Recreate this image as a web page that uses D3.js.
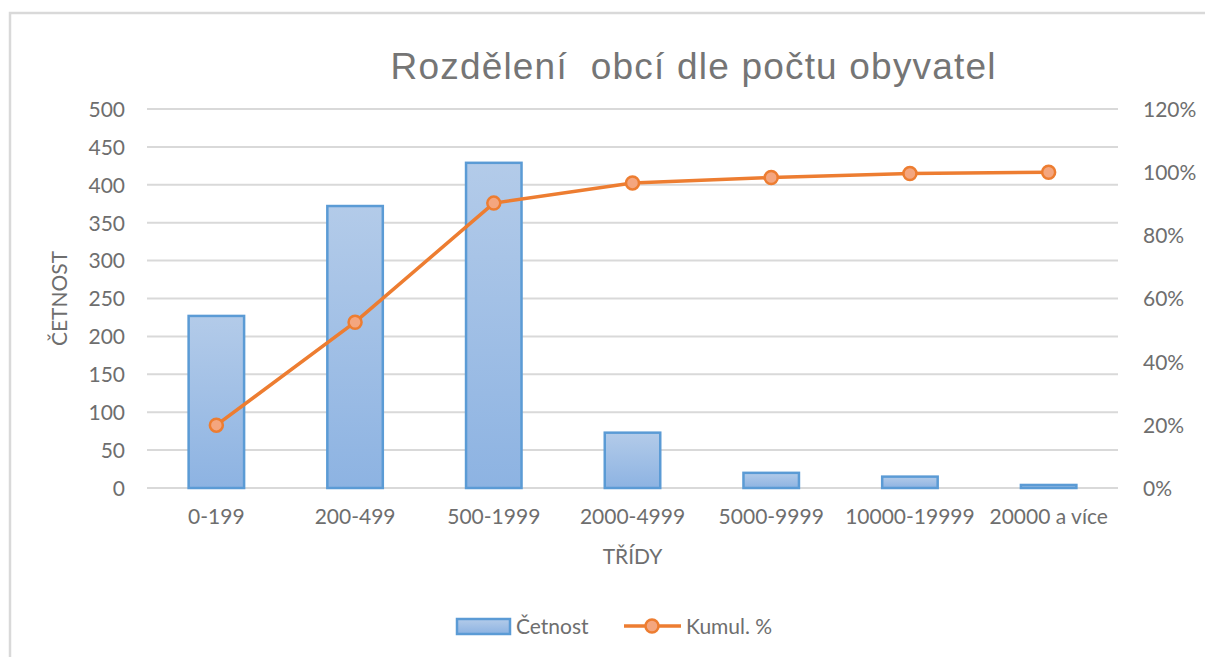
<!DOCTYPE html>
<html>
<head>
<meta charset="utf-8">
<script src="https://cdn.jsdelivr.net/npm/d3@7"></script>
<style>
  body { margin: 0; background: #fff; }
  text { font-family: Lato, "Open Sans", sans-serif; fill: #6e6e6e; }
</style>
</head>
<body>
<svg id="chart" width="1205" height="657"></svg>
<script>
// data
var categories = ['0-199', '200-499', '500-1999', '2000-4999', '5000-9999', '10000-19999', '20000 a více'];
var counts = [227, 372, 429, 73, 20, 15, 4];
var cumulPct = [0.199, 0.525, 0.902, 0.966, 0.983, 0.996, 1.0];
var leftTicks = [0, 50, 100, 150, 200, 250, 300, 350, 400, 450, 500];
var rightTicks = [0, 0.2, 0.4, 0.6, 0.8, 1.0, 1.2];

var svg = d3.select('#chart');

// outer chart frame (runs off the right and bottom)
svg.append('rect')
  .attr('x', 10).attr('y', 13)
  .attr('width', 1400).attr('height', 900)
  .attr('fill', 'none').attr('stroke', '#d9d9d9').attr('stroke-width', 2.5);

var plotL = 147, plotR = 1118, plotT = 109, plotB = 488;

var x = d3.scaleBand().domain(categories).range([plotL, plotR])
  .paddingInner(0.6).paddingOuter(0.3);
var y = d3.scaleLinear().domain([0, 500]).range([plotB, plotT]);
var y2 = d3.scaleLinear().domain([0, 1.2]).range([plotB, plotT]);

var defs = svg.append('defs');
var grad = defs.append('linearGradient').attr('id', 'barGrad')
  .attr('x1', 0).attr('y1', 0).attr('x2', 0).attr('y2', 1);
grad.append('stop').attr('offset', '0%').attr('stop-color', '#b3cbe9');
grad.append('stop').attr('offset', '100%').attr('stop-color', '#8db3e2');

// gridlines
svg.append('g').selectAll('line')
  .data(leftTicks)
  .enter().append('line')
  .attr('x1', plotL).attr('x2', plotR)
  .attr('y1', function(d){ return y(d); })
  .attr('y2', function(d){ return y(d); })
  .attr('stroke', '#d9d9d9').attr('stroke-width', 2);

// left axis
var axL = svg.append('g').attr('transform', 'translate(' + (plotL - 22) + ',0)')
  .call(d3.axisLeft(y).tickValues(leftTicks).tickSize(0).tickPadding(0));
axL.select('.domain').remove();
axL.selectAll('text').style('font-size', '21px').attr('dy', '0.35em');

// right axis
var axR = svg.append('g').attr('transform', 'translate(' + (plotR + 25) + ',0)')
  .call(d3.axisRight(y2).tickValues(rightTicks).tickSize(0).tickPadding(0)
    .tickFormat(d3.format('.0%')));
axR.select('.domain').remove();
axR.selectAll('text').style('font-size', '21px').attr('dy', '0.35em');

// bottom axis labels
var axB = svg.append('g').attr('transform', 'translate(0,' + (plotB + 20) + ')')
  .call(d3.axisBottom(x).tickSize(0).tickPadding(0));
axB.select('.domain').remove();
axB.selectAll('text').style('font-size', '21px').attr('dy', '0.75em');

// bars
svg.append('g').selectAll('rect')
  .data(counts)
  .enter().append('rect')
  .attr('x', function(d, i){ return x(categories[i]); })
  .attr('y', function(d){ return y(d); })
  .attr('width', x.bandwidth())
  .attr('height', function(d){ return plotB - y(d); })
  .attr('fill', 'url(#barGrad)')
  .attr('stroke', '#5b9bd5').attr('stroke-width', 2.5);

// cumulative line
var line = d3.line()
  .x(function(d, i){ return x(categories[i]) + x.bandwidth() / 2; })
  .y(function(d){ return y2(d); });
svg.append('path')
  .datum(cumulPct)
  .attr('d', line)
  .attr('fill', 'none').attr('stroke', '#ed7d31').attr('stroke-width', 3.5)
  .attr('stroke-linejoin', 'round');

svg.append('g').selectAll('circle')
  .data(cumulPct)
  .enter().append('circle')
  .attr('cx', function(d, i){ return x(categories[i]) + x.bandwidth() / 2; })
  .attr('cy', function(d){ return y2(d); })
  .attr('r', 6.5)
  .attr('fill', '#f4a67f').attr('stroke', '#ed7d31').attr('stroke-width', 2.5);

// title
svg.append('text')
  .attr('x', 693).attr('y', 79)
  .attr('text-anchor', 'middle')
  .attr('textLength', 605).attr('lengthAdjust', 'spacing')
  .attr('xml:space', 'preserve')
  .style('white-space', 'pre')
  .style('font-family', '"Liberation Sans", Arial, sans-serif')
  .style('font-size', '37px')
  .style('fill', '#757575')
  .text('Rozdělení  obcí dle počtu obyvatel');

// axis titles
svg.append('text')
  .attr('x', (plotL + plotR) / 2).attr('y', 564)
  .attr('text-anchor', 'middle')
  .style('font-size', '21px')
  .text('TŘÍDY');

svg.append('text')
  .attr('transform', 'translate(67,' + ((plotT + plotB) / 2) + ') rotate(-90)')
  .attr('text-anchor', 'middle')
  .style('font-size', '21px')
  .text('ČETNOST');

// legend
var lg = svg.append('g');
lg.append('rect')
  .attr('x', 457).attr('y', 619).attr('width', 53).attr('height', 15)
  .attr('fill', 'url(#barGrad)').attr('stroke', '#5b9bd5').attr('stroke-width', 2.5);
lg.append('text').attr('x', 516).attr('y', 634).style('font-size', '21px').text('Četnost');
lg.append('line')
  .attr('x1', 624).attr('x2', 681).attr('y1', 626).attr('y2', 626)
  .attr('stroke', '#ed7d31').attr('stroke-width', 3.5);
lg.append('circle').attr('cx', 652).attr('cy', 626).attr('r', 6.5)
  .attr('fill', '#f4a67f').attr('stroke', '#ed7d31').attr('stroke-width', 2.5);
lg.append('text').attr('x', 686).attr('y', 634).style('font-size', '21px').text('Kumul. %');
</script>
</body>
</html>
